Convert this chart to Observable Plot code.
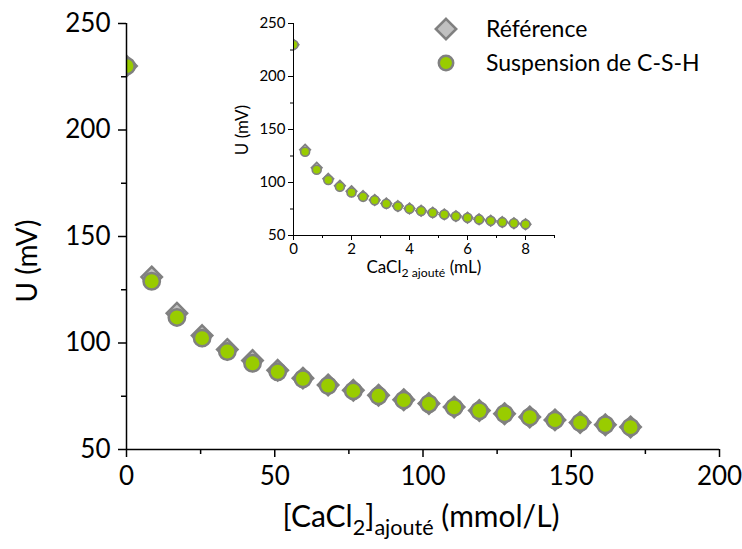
<!DOCTYPE html>
<html>
<head>
<meta charset="utf-8">
<script src="https://cdn.jsdelivr.net/npm/d3@7"></script>
<script src="https://cdn.jsdelivr.net/npm/@observablehq/plot@0.6"></script>
<style>
  html, body { margin: 0; padding: 0; background: white; }
  #wrap { position: relative; width: 742px; height: 549px; font-family: Lato, "Open Sans", sans-serif; color: black; }
  #wrap svg { overflow: visible; }
  .abs { position: absolute; white-space: nowrap; line-height: 1.2; }
  sub { font-size: 0.72em; vertical-align: baseline; position: relative; top: 0.35em; }
</style>
</head>
<body>
<div id="wrap"></div>
<script>
// ---- data ----
const concentration = [0, 8.5, 17, 25.5, 34, 42.5, 51, 59.5, 68, 76.5, 85, 93.5, 102, 110.5, 119, 127.5, 136, 144.5, 153, 161.5, 170]; // mmol/L
const volume = [0, 0.4, 0.8, 1.2, 1.6, 2.0, 2.4, 2.8, 3.2, 3.6, 4.0, 4.4, 4.8, 5.2, 5.6, 6.0, 6.4, 6.8, 7.2, 7.6, 8.0]; // mL
const uReference = [230, 131, 114, 103.5, 97, 91.8, 87.2, 83.5, 80.3, 77.8, 75.5, 73.4, 71.6, 69.9, 68.3, 66.8, 65.3, 63.9, 62.7, 61.6, 60.6];
const uSuspension = [230, 129, 112, 102.3, 96, 90.5, 86.5, 83.2, 80, 77.5, 75.2, 73.2, 71.5, 69.8, 68.2, 66.8, 65.2, 63.8, 62.6, 61.6, 60.5];
const seriesNames = ["Référence", "Suspension de C-S-H"];

const mainXMajor = [0, 50, 100, 150, 200];
const mainXMinor = [25, 75, 125, 175];
const mainYMajor = [50, 100, 150, 200, 250];
const mainYMinor = [75, 125, 175, 225];
const insetXMajor = [0, 2, 4, 6, 8];
const insetXMinor = [1, 3, 5, 7, 9];
const insetYMajor = [50, 100, 150, 200, 250];
const insetYMinor = [75, 125, 175, 225];

const GREY = "#808080", LIGHT = "#c0c0c0", GREEN = "#99cc00";

const refMain = concentration.map((x, i) => ({x, u: uReference[i]}));
const susMain = concentration.map((x, i) => ({x, u: uSuspension[i]}));
const refInset = volume.map((x, i) => ({x, u: uReference[i]}));
const susInset = volume.map((x, i) => ({x, u: uSuspension[i]}));

const wrap = document.getElementById("wrap");

// ---- main chart ----
const main = Plot.plot({
  width: 742, height: 549,
  marginLeft: 126, marginRight: 23, marginTop: 23, marginBottom: 100,
  x: {domain: [0, 200]},
  y: {domain: [50, 250]},
  style: {fontFamily: "Lato, 'Open Sans', sans-serif", fontSize: "26px", color: "black", background: "transparent"},
  marks: [
    Plot.dot(refMain, {x: "x", y: "u", symbol: "diamond2", r: 9.2, fill: LIGHT, stroke: GREY, strokeWidth: 2.5, clip: true}),
    Plot.dot(susMain, {x: "x", y: "u", symbol: "circle", r: 8.2, fill: GREEN, stroke: GREY, strokeWidth: 2.5, clip: true}),
    Plot.axisX(mainXMajor, {tickSize: 8, tickPadding: 9, strokeWidth: 1.5, label: null}),
    Plot.axisX(mainXMinor, {tickSize: 5, tickFormat: () => "", strokeWidth: 1.5, label: null}),
    Plot.axisY(mainYMajor, {tickSize: 8, tickPadding: 8, strokeWidth: 1.5, label: null}),
    Plot.axisY(mainYMinor, {tickSize: 5, tickFormat: () => "", strokeWidth: 1.5, label: null}),
    Plot.ruleX([0], {stroke: "black", strokeWidth: 1.5}),
    Plot.ruleY([50], {stroke: "black", strokeWidth: 1.5})
  ]
});
main.style.position = "absolute"; main.style.left = "0px"; main.style.top = "0px";
wrap.appendChild(main);

// ---- inset chart ----
const inset = Plot.plot({
  width: 340, height: 290,
  marginLeft: 63, marginRight: 16, marginTop: 23, marginBottom: 55,
  x: {domain: [0, 9]},
  y: {domain: [50, 250]},
  style: {fontFamily: "Lato, 'Open Sans', sans-serif", fontSize: "15px", color: "black", background: "transparent"},
  marks: [
    Plot.dot(refInset, {x: "x", y: "u", symbol: "diamond2", r: 4.8, fill: LIGHT, stroke: GREY, strokeWidth: 1.6, clip: true}),
    Plot.dot(susInset, {x: "x", y: "u", symbol: "circle", r: 4.5, fill: GREEN, stroke: GREY, strokeWidth: 1.6, clip: true}),
    Plot.axisX(insetXMajor, {tickSize: 5, tickPadding: 3, strokeWidth: 1, label: null}),
    Plot.axisX(insetXMinor, {tickSize: 3, tickFormat: () => "", strokeWidth: 1, label: null}),
    Plot.axisY(insetYMajor, {tickSize: 5, tickPadding: 3, strokeWidth: 1, label: null}),
    Plot.axisY(insetYMinor, {tickSize: 3, tickFormat: () => "", strokeWidth: 1, label: null}),
    Plot.ruleX([0], {stroke: "black", strokeWidth: 1}),
    Plot.ruleY([50], {stroke: "black", strokeWidth: 1})
  ]
});
inset.style.position = "absolute"; inset.style.left = "230px"; inset.style.top = "0px";
wrap.appendChild(inset);

// ---- axis labels ----
function addLabel(html, css) {
  const d = document.createElement("div");
  d.className = "abs";
  d.innerHTML = html;
  Object.assign(d.style, css);
  wrap.appendChild(d);
  return d;
}
// main x label, centred at x≈421
const xl = addLabel("[CaCl<sub>2</sub>]<sub>ajouté</sub> (mmol/L)", {fontSize: "30px", top: "497px", left: "0px"});
xl.style.left = (421 - xl.offsetWidth / 2) + "px";
// main y label (rotated), centred at (27, 261)
addLabel("U (mV)", {fontSize: "28px", transform: "translate(-50%,-50%) rotate(-90deg)", left: "27px", top: "261px"});
// inset x label
const ixl = addLabel("CaCl<sub>2 ajouté</sub> (mL)", {fontSize: "17px", top: "257px", left: "0px"});
ixl.style.left = (424 - ixl.offsetWidth / 2) + "px";
// inset y label
addLabel("U (mV)", {fontSize: "17px", transform: "translate(-50%,-50%) rotate(-90deg)", left: "242px", top: "130px"});

// ---- legend ----
const legend = document.createElement("div");
legend.className = "abs";
Object.assign(legend.style, {left: "432px", top: "12px", fontSize: "23px"});
const symbols = [
  `<svg width="28" height="28" style="overflow:visible"><path d="${d3.symbol(d3.symbolDiamond2, Math.PI * 9.2 * 9.2)()}" transform="translate(14,14)" fill="${LIGHT}" stroke="${GREY}" stroke-width="2.5"/></svg>`,
  `<svg width="28" height="28" style="overflow:visible"><circle cx="14" cy="14" r="7.2" fill="${GREEN}" stroke="${GREY}" stroke-width="2.5"/></svg>`
];
legend.innerHTML = seriesNames.map((name, i) =>
  `<div style="display:flex;align-items:center;height:34px">${symbols[i]}<span style="margin-left:26px">${name}</span></div>`
).join("");
wrap.appendChild(legend);
</script>
</body>
</html>
